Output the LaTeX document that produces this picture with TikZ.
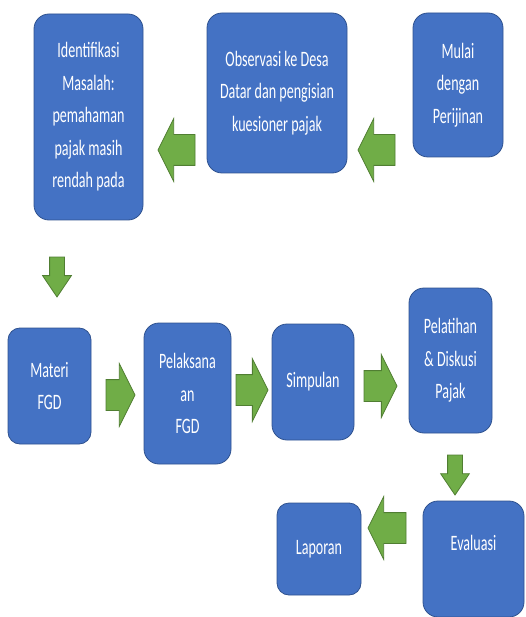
\documentclass[tikz,border=0pt]{standalone}
\usepackage{fontspec}
\setmainfont[FakeStretch=0.64]{Carlito}
\usetikzlibrary{shapes.arrows}
\definecolor{boxblue}{HTML}{4472C4}
\definecolor{boxline}{HTML}{2F528F}
\definecolor{arrowgreen}{HTML}{70AD47}
\definecolor{arrowline}{HTML}{507E32}
\begin{document}
\begin{tikzpicture}[
    x=1pt, y=-1pt,
    step box/.style={rectangle, draw=boxline, fill=boxblue, line width=0.8pt,
        rounded corners=15pt, text=white, align=center, inner sep=0pt,
        font=\fontsize{22}{32.5}\selectfont},
    blockarrow/.style={single arrow, draw=arrowline, fill=arrowgreen, line width=0.8pt,
        anchor=tip, inner sep=0pt, outer sep=0pt},
    widearrow/.style={blockarrow, inner ysep=15pt, minimum width=62pt,
        single arrow head extend=16pt, single arrow tip angle=127},
    downarrow/.style={blockarrow, inner ysep=7pt, minimum width=28pt,
        single arrow head extend=7pt, single arrow tip angle=68, rotate=-90}
]
\useasboundingbox (0,0) rectangle (525,617);
% top row, right to left
\node (Mulai) [step box, minimum width=90pt, minimum height=144pt] at (458,85)
    {Mulai\\dengan\\Perijinan};
\node (Observasi) [step box, minimum width=140pt, minimum height=160pt] at (277,93)
    {Observasi ke Desa\\Datar dan pengisian\\kuesioner pajak};
\node (Identifikasi) [step box, minimum width=109pt, minimum height=206pt] at (88.5,117)
    {Identifikasi\\Masalah:\\pemahaman\\pajak masih\\rendah pada};
% middle row
\node (Materi) [step box, minimum width=83pt, minimum height=116pt, rounded corners=12pt] at (49.5,386)
    {Materi\\FGD};
\node (Pelaksanaan) [step box, minimum width=87pt, minimum height=141pt] at (187.5,393.5)
    {Pelaksana\\an\\FGD};
\node (Simpulan) [step box, minimum width=82pt, minimum height=116pt] at (313,382)
    {Simpulan};
\node (Pelatihan) [step box, minimum width=83pt, minimum height=145pt] at (450.5,360.5)
    {Pelatihan\\\& Diskusi\\Pajak};
% bottom row
\node (Evaluasi) [step box, minimum width=101pt, minimum height=116pt, text depth=32pt] at (473.5,559)
    {Evaluasi};
\node (Laporan) [step box, minimum width=84pt, minimum height=92pt, rounded corners=12pt] at (319,549)
    {Laporan};

% block arrows
\node (Arrow01) [widearrow, rotate=180, minimum height=37pt] at (358,150) {};
\node (Arrow02) [widearrow, rotate=180, minimum height=37pt] at (158,150) {};
\node (Arrow03) [downarrow, minimum height=40pt] at (57,297) {};
\node (Arrow04) [widearrow, minimum height=29pt] at (135,395) {};
\node (Arrow05) [widearrow, minimum height=32pt] at (268,390) {};
\node (Arrow06) [widearrow, minimum height=33pt] at (397,386) {};
\node (Arrow07) [downarrow, minimum height=40pt] at (455,495) {};
\node (Arrow08) [widearrow, rotate=180, minimum height=38pt] at (368,528) {};
\end{tikzpicture}
\end{document}
